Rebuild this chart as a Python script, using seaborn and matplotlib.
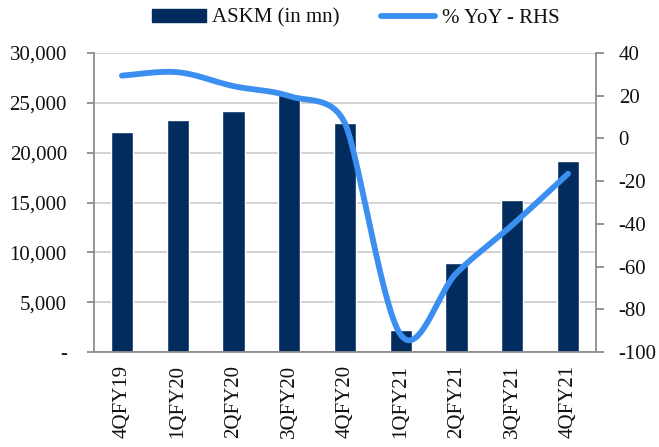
import numpy as np
import pandas as pd
import matplotlib
matplotlib.use("Agg")
import matplotlib.pyplot as plt
import seaborn as sns
from matplotlib.ticker import FuncFormatter, FixedLocator
from matplotlib.patches import Patch
from matplotlib.lines import Line2D

quarters = ["4QFY19", "1QFY20", "2QFY20", "3QFY20", "4QFY20",
            "1QFY21", "2QFY21", "3QFY21", "4QFY21"]
askm = [22100, 23300, 24200, 25800, 23000, 2200, 8900, 15300, 19200]
yoy = [29.4, 31.0, 24.5, 19.8, 7.0, -92.0, -63.0, -40.5, -16.5]

bar_color = "#032c5e"
line_color = "#3b8ff0"
grid_color = "#cfcfcf"
spine_color = "#8c8c8c"
text_color = "#111111"
font_size = 15

sns.set_style("white")
plt.rcParams["font.family"] = ["Liberation Serif", "DejaVu Serif"]
plt.rcParams["font.size"] = font_size
plt.rcParams["text.color"] = text_color
plt.rcParams["xtick.color"] = text_color
plt.rcParams["ytick.color"] = text_color
plt.rcParams["axes.unicode_minus"] = False


def smooth_curve(ax, xs, ys, steps=40):
    """Smoothed line through every point: cubic Bezier segments in screen space,
    control arms of 1/6 of the neighbour span, capped at half the shorter chord."""
    pts = ax.transData.transform(np.column_stack([xs, ys]).astype(float))
    n = len(pts)
    chord = np.linalg.norm(np.diff(pts, axis=0), axis=1)
    arms = np.zeros_like(pts)
    for i in range(n):
        prev_p = pts[max(i - 1, 0)]
        next_p = pts[min(i + 1, n - 1)]
        arm = (next_p - prev_p) / 6
        near = [chord[j] for j in (i - 1, i) if 0 <= j < n - 1]
        limit = min(near) / 2
        length = np.linalg.norm(arm)
        if length > limit > 0:
            arm = arm * limit / length
        arms[i] = arm
    out = []
    for i in range(n - 1):
        p0, p3 = pts[i], pts[i + 1]
        c1, c2 = p0 + arms[i], p3 - arms[i + 1]
        s = np.linspace(0, 1, steps, endpoint=(i == n - 2))[:, None]
        seg = ((1 - s) ** 3) * p0 + 3 * ((1 - s) ** 2) * s * c1 \
            + 3 * (1 - s) * s ** 2 * c2 + s ** 3 * p3
        out.append(seg)
    curve = ax.transData.inverted().transform(np.vstack(out))
    return curve[:, 0], curve[:, 1]


df = pd.DataFrame({"quarter": quarters, "askm": askm, "yoy": yoy})

fig = plt.figure(figsize=(6.59, 4.47), dpi=100)
ax = fig.add_axes([94 / 659, 1 - 352 / 447, (596 - 94) / 659, (352 - 53) / 447])

sns.barplot(data=df, x="quarter", y="askm", color=bar_color, width=0.4,
            saturation=1, ax=ax, zorder=2)
ax.set_xlim(-0.5, len(quarters) - 0.5)
ax.set_ylim(0, 30000)
ax.set_yticks(np.arange(0, 30001, 5000))
ax.yaxis.set_major_formatter(FuncFormatter(lambda v, p: "-" if v == 0 else f"{int(v):,}"))
ax.yaxis.grid(True, color=grid_color, linewidth=1.3, zorder=0)
ax.set_axisbelow(True)
ax.set_xlabel("")
ax.set_ylabel("")

ax.set_xticks(range(len(quarters)))
ax.set_xticklabels(quarters, rotation=90, va="top")
ax.xaxis.set_minor_locator(FixedLocator(np.arange(-0.5, len(quarters), 1.0)))
ax.tick_params(axis="x", which="major", length=0, pad=9.5)
ax.tick_params(axis="x", which="minor", length=4.5, width=1.3, color=spine_color, direction="out")
ax.tick_params(axis="y", length=5, width=1.3, color=spine_color, direction="out", pad=14.5)

for side in ["left", "bottom"]:
    ax.spines[side].set_color(spine_color)
    ax.spines[side].set_linewidth(1.3)
ax.spines["top"].set_visible(False)
ax.spines["right"].set_visible(False)

ax2 = ax.twinx()
ax2.set_xlim(-0.5, len(quarters) - 0.5)
ax2.set_ylim(-100, 40)
cx, cy = smooth_curve(ax2, np.arange(len(yoy)), yoy)
sns.lineplot(x=cx, y=cy, sort=False, color=line_color, linewidth=4.2,
             ax=ax2, zorder=3)
for ln in ax2.lines:
    ln.set_solid_capstyle("round")
ax2.set_ylim(-100, 40)
ax2.set_yticks(np.arange(-100, 41, 20))
ax2.tick_params(axis="y", length=5.8, width=1.3, color=spine_color, direction="out", pad=10.5)
ax2.grid(False)
for side in ["top", "left", "bottom"]:
    ax2.spines[side].set_visible(False)
ax2.spines["right"].set_color(spine_color)
ax2.spines["right"].set_linewidth(1.3)

handles = [Patch(facecolor=bar_color, edgecolor=bar_color),
           Line2D([0], [0], color=line_color, linewidth=4.2, solid_capstyle="round")]
fig.legend(handles, ["ASKM (in mn)", "% YoY - RHS"], loc="center",
           bbox_to_anchor=(0.5395, 0.96), ncol=2, frameon=False,
           handlelength=2.6, handleheight=0.58, columnspacing=2.0, handletextpad=0.3,
           fontsize=font_size)

fig.savefig("out.png", dpi=100)
